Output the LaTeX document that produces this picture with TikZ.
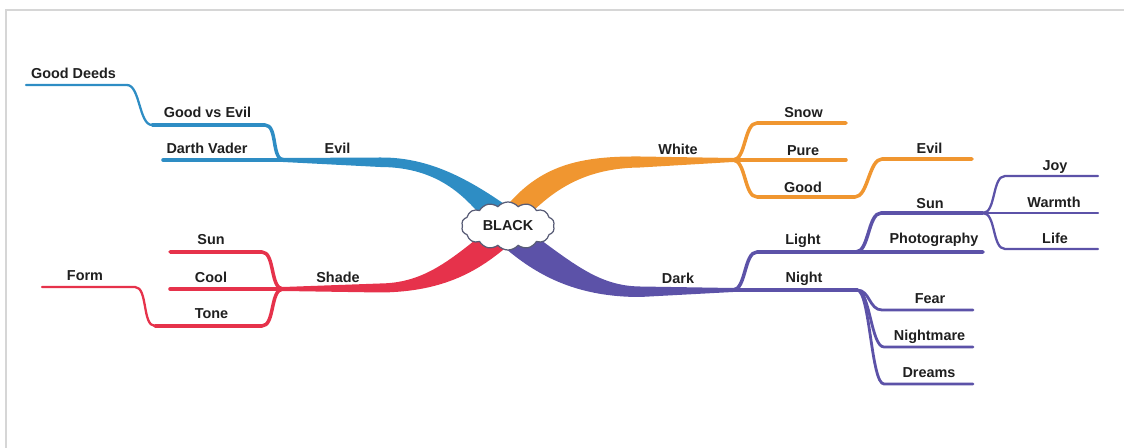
\documentclass[tikz,border=0pt]{standalone}
\usepackage{fontspec}
\setmainfont{Liberation Sans}
\usetikzlibrary{shapes.symbols}

\definecolor{evilblue}{RGB}{46,141,196}
\definecolor{whiteorange}{RGB}{240,150,48}
\definecolor{shadered}{RGB}{230,50,75}
\definecolor{darkpurple}{RGB}{92,82,168}
\definecolor{framegray}{RGB}{214,214,214}
\definecolor{cloudline}{RGB}{88,92,118}

\begin{document}
\begin{tikzpicture}[x=0.02cm, y=-0.02cm,
    lblfont/.style={font=\bfseries\fontsize{8.2}{9}\selectfont, text=black!88},
    lbl/.style={lblfont, anchor=base, inner sep=0pt},
    sbend/.style={to path={.. controls +(13,0) and +(-13,0) .. (\tikztotarget)}},
    twig/.style={line width=2pt, line cap=round, line join=round},
    thintwig/.style={line width=1.3pt, line cap=round, line join=round}]
    \useasboundingbox (0,0) rectangle (1124,448);
    \draw[framegray, line width=1.5pt] (6,448) -- (6,10) -- (1124,10); % frame

    % junctions and free ends
    \coordinate (evilJ) at (284,160);
    \coordinate (dvEnd) at (163,160);
    \coordinate (gveL) at (152,125); \coordinate (gveR) at (265,125);
    \coordinate (gdL) at (26,85);    \coordinate (gdR) at (127,85);
    \coordinate (shadeJ) at (283,289);
    \coordinate (coolEnd) at (170,289);
    \coordinate (sunL) at (170,252); \coordinate (sunR) at (262,252);
    \coordinate (toneL) at (155,326); \coordinate (toneR) at (262,326);
    \coordinate (formL) at (42,287); \coordinate (formR) at (135,287);
    \coordinate (whiteJ) at (733,160);
    \coordinate (snowL) at (757,123); \coordinate (snowR) at (846,123);
    \coordinate (pureR) at (846,160);
    \coordinate (goodL) at (757,197); \coordinate (goodR) at (855,197);
    \coordinate (evilwL) at (882,159); \coordinate (evilwR) at (972,159);
    \coordinate (darkJ) at (733,290);
    \coordinate (lightL) at (757,252); \coordinate (lightR) at (856,252);
    \coordinate (photoR) at (983,252);
    \coordinate (sunpL) at (881,213); \coordinate (sunJ) at (983,213);
    \coordinate (joyL) at (1005,176); \coordinate (joyR) at (1098,176);
    \coordinate (warmR) at (1098,213);
    \coordinate (lifeL) at (1005,249); \coordinate (lifeR) at (1098,249);
    \coordinate (nightR) at (857,290);
    \coordinate (fearL) at (882,310); \coordinate (fearR) at (973,310);
    \coordinate (nmL) at (884,347); \coordinate (nmR) at (973,347);
    \coordinate (drL) at (884,384); \coordinate (drR) at (973,384);

    % main branches
    \fill[evilblue] (283,158) -- (380,157.5) .. controls (430,157) and (470,180) .. (510,208)
        -- (480,214) .. controls (465,199) and (440,167) .. (380,167) -- (283,162) -- cycle; % Evil
    \fill[shadered] (283,287) -- (380,283.5) .. controls (420,283) and (445,265) .. (485,232)
        -- (510,244) .. controls (480,270) and (445,292) .. (380,292.5) -- (283,291) -- cycle; % Shade
    \fill[whiteorange] (733,158) -- (640,156.5) .. controls (580,156) and (540,165) .. (505,208)
        -- (532,212) .. controls (555,190) and (585,168) .. (640,167.5) -- (733,162) -- cycle; % White
    \fill[darkpurple] (733,288) -- (640,286.5) .. controls (600,286) and (575,265) .. (530,232)
        -- (505,248) .. controls (540,278) and (580,297) .. (640,297) -- (733,292) -- cycle; % Dark

    % Evil twigs
    \draw[twig, evilblue] (dvEnd) -- (evilJ);
    \draw[twig, evilblue] (gveL) -- (gveR) to[sbend] (evilJ);
    \draw[thintwig, evilblue] (gdL) -- (gdR) to[sbend] (gveL);
    % Shade twigs
    \draw[twig, shadered] (coolEnd) -- (shadeJ);
    \draw[twig, shadered] (sunL) -- (sunR) to[sbend] (shadeJ);
    \draw[twig, shadered] (toneL) -- (toneR) to[sbend] (shadeJ);
    \draw[thintwig, shadered] (formL) -- (formR) to[sbend] (toneL);
    % White twigs
    \draw[twig, whiteorange] (whiteJ) to[sbend] (snowL) -- (snowR);
    \draw[twig, whiteorange] (whiteJ) -- (pureR);
    \draw[twig, whiteorange] (whiteJ) to[sbend] (goodL) -- (goodR) to[sbend] (evilwL) -- (evilwR);
    % Dark twigs
    \draw[twig, darkpurple] (darkJ) to[sbend] (lightL) -- (lightR) -- (photoR);
    \draw[twig, darkpurple] (lightR) to[sbend] (sunpL) -- (sunJ);
    \draw[thintwig, darkpurple] (sunJ) to[sbend] (joyL) -- (joyR);
    \draw[thintwig, darkpurple] (sunJ) -- (warmR);
    \draw[thintwig, darkpurple] (sunJ) to[sbend] (lifeL) -- (lifeR);
    \draw[twig, darkpurple] (darkJ) -- (nightR);
    \draw[twig, darkpurple, line width=1.6pt] (nightR) to[sbend] (fearL) -- (fearR);
    \draw[twig, darkpurple, line width=1.6pt] (nightR) to[sbend] (nmL) -- (nmR);
    \draw[twig, darkpurple, line width=1.6pt] (nightR) to[sbend] (drL) -- (drR);

    \node[cloud, cloud puffs=14, cloud puff arc=100, aspect=2.2, draw=cloudline, line width=0.7pt,
        fill=white, minimum width=1.86cm, minimum height=0.94cm, lblfont] (black) at (508,226) {BLACK};

    % labels
    \node[lbl] (gooddeeds) at (73.5,78.5) {Good Deeds};
    \node[lbl] (goodvsevil) at (207.5,117.5) {Good vs Evil};
    \node[lbl] (darthvader) at (207,153.5) {Darth Vader};
    \node[lbl] (evil) at (337.5,153.5) {Evil};
    \node[lbl] (shadesun) at (211,244.5) {Sun};
    \node[lbl] (cool) at (211,282.5) {Cool};
    \node[lbl] (tone) at (211.5,318.5) {Tone};
    \node[lbl] (form) at (85,280.5) {Form};
    \node[lbl] (shade) at (338,282.5) {Shade};
    \node[lbl] (white) at (678,155) {White};
    \node[lbl] (snow) at (803.5,117.5) {Snow};
    \node[lbl] (pure) at (803,155.5) {Pure};
    \node[lbl] (good) at (803,192.5) {Good};
    \node[lbl] (whiteevil) at (929.5,153.5) {Evil};
    \node[lbl] (dark) at (678,283.5) {Dark};
    \node[lbl] (light) at (803,244.5) {Light};
    \node[lbl] (sun) at (930,208.5) {Sun};
    \node[lbl] (photography) at (934,243.5) {Photography};
    \node[lbl] (joy) at (1055,170.5) {Joy};
    \node[lbl] (warmth) at (1054,207.5) {Warmth};
    \node[lbl] (life) at (1055,243.5) {Life};
    \node[lbl] (night) at (804,282.5) {Night};
    \node[lbl] (fear) at (930,303.5) {Fear};
    \node[lbl] (nightmare) at (929.5,340.5) {Nightmare};
    \node[lbl] (dreams) at (929,377.5) {Dreams};
\end{tikzpicture}
\end{document}
